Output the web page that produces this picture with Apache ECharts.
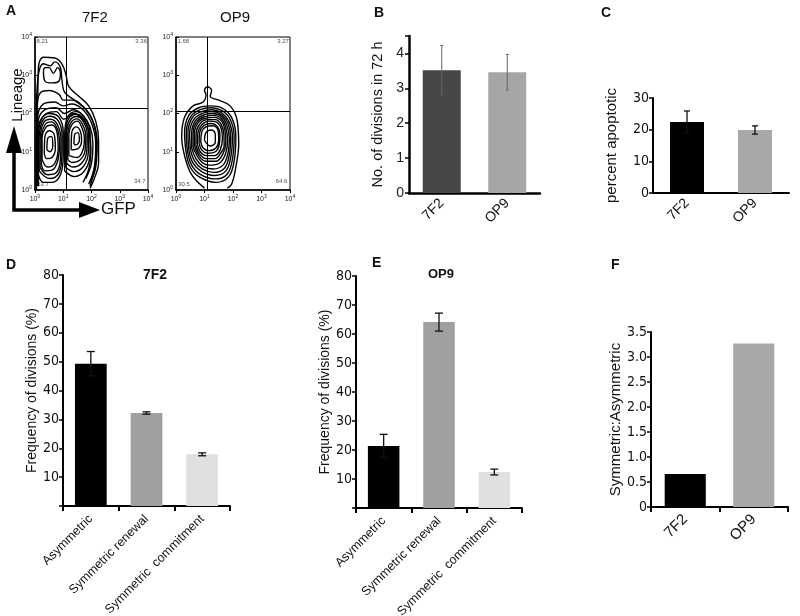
<!DOCTYPE html>
<html><head><meta charset="utf-8">
<script src="https://cdn.jsdelivr.net/npm/echarts@6/dist/echarts.min.js"></script>
<style>html,body{margin:0;padding:0;background:#fff}#c{width:800px;height:616px}</style>
</head><body><div id="c"></div>
<script>
// ---------- Panel A (flow cytometry, log10 exponents) ----------
const flowTicks = [0, 1, 2, 3, 4];
const gate7F2 = {x: 1.12, y: 2.13};
const gateOP9 = {x: 1.09, y: 2.05};
const quad7F2 = [['8.21', 0.05, 3.88], ['3.36', 3.55, 3.88], ['53.7', 0.08, 0.14], ['34.7', 3.5, 0.22]];
const quadOP9 = [['1.68', 0.05, 3.88], ['3.27', 3.55, 3.88], ['30.5', 0.08, 0.14], ['64.6', 3.5, 0.22]];
// contour rings: [log10 GFP, log10 Lineage]
const contours7F2 = [
  [[0.05,0.0],[0.05,1.5],[0.1,2.5],[0.12,3.2],[0.3,3.47],[0.7,3.45],[0.95,3.3],[1.1,3.0],[1.2,2.7],[1.55,2.45],[1.9,2.2],[2.15,1.8],[2.25,1.3],[2.25,0.7],[2.1,0.3],[1.95,0.05]],
  [[0.05,0.1],[0.05,2.0],[0.1,2.9],[0.3,3.3],[0.55,3.25],[0.7,3.35],[0.9,3.2],[0.95,2.9],[1.05,2.55],[1.4,2.35],[1.8,2.1],[2.1,1.7],[2.2,1.2],[2.15,0.6],[1.95,0.2]],
  [[0.3,3.1],[0.35,2.85],[0.6,2.8],[0.85,2.85],[0.9,3.05],[0.8,3.2],[0.65,3.05],[0.5,3.2],[0.35,3.2],[0.3,3.1]],
  [[0.08,0.1],[0.08,2.2],[0.2,2.55],[0.5,2.6],[0.85,2.5],[1.0,2.35],[1.3,2.35],[1.75,2.15],[2.05,1.8],[2.18,1.25],[2.12,0.6],[1.95,0.1]],
  [[0.05,0.2],[0.08,1.8],[0.3,2.25],[0.7,2.3],[1.0,2.2],[1.3,2.25],[1.7,2.1],[2.0,1.75],[2.15,1.2],[2.1,0.6],[1.9,0.15]],
  [[0.1,0.3],[0.1,1.7],[0.35,2.1],[0.75,2.15],[1.05,2.0],[1.35,2.1],[1.7,1.95],[1.95,1.65],[2.05,1.2],[2.0,0.7],[1.8,0.3]],
  [[0.12,0.1],[0.12,1.6],[0.4,2.0],[0.75,2.05],[1.02,1.85],[1.35,2.0],[1.7,1.85],[1.9,1.55],[1.98,1.1],[1.92,0.6],[1.7,0.2]],
  [[0.12,0.4],[0.1,1.2],[0.2,1.8],[0.5,2.0],[0.85,1.9],[1.0,1.5],[1.0,0.9],[0.9,0.4],[0.6,0.2],[0.3,0.2],[0.12,0.4]],
  [[0.15,0.5],[0.14,1.25],[0.25,1.78],[0.52,1.93],[0.83,1.8],[0.96,1.4],[0.95,0.85],[0.83,0.42],[0.52,0.3],[0.15,0.5]],
  [[0.18,0.6],[0.18,1.3],[0.3,1.75],[0.55,1.85],[0.8,1.7],[0.92,1.3],[0.9,0.8],[0.75,0.45],[0.45,0.4],[0.18,0.6]],
  [[0.22,0.7],[0.22,1.32],[0.35,1.7],[0.57,1.78],[0.79,1.6],[0.87,1.2],[0.8,0.75],[0.6,0.52],[0.35,0.5],[0.22,0.7]],
  [[0.25,0.8],[0.25,1.35],[0.4,1.65],[0.6,1.7],[0.78,1.5],[0.82,1.1],[0.7,0.7],[0.45,0.6],[0.25,0.8]],
  [[0.33,0.95],[0.35,1.4],[0.5,1.55],[0.68,1.45],[0.72,1.1],[0.6,0.85],[0.42,0.82],[0.33,0.95]],
  [[0.42,1.05],[0.45,1.35],[0.58,1.4],[0.63,1.15],[0.52,1.0],[0.42,1.05]],
  [[1.05,0.5],[1.05,1.4],[1.15,1.9],[1.45,2.05],[1.75,1.9],[1.95,1.5],[1.95,1.0],[1.8,0.55],[1.4,0.35],[1.05,0.5]],
  [[1.08,0.6],[1.08,1.42],[1.18,1.85],[1.46,1.98],[1.73,1.85],[1.9,1.48],[1.89,1.0],[1.72,0.62],[1.37,0.48],[1.08,0.6]],
  [[1.12,0.7],[1.12,1.45],[1.22,1.8],[1.47,1.92],[1.7,1.8],[1.85,1.45],[1.83,1.0],[1.65,0.7],[1.35,0.6],[1.12,0.7]],
  [[1.16,0.8],[1.16,1.45],[1.26,1.75],[1.48,1.86],[1.68,1.72],[1.8,1.4],[1.77,1.02],[1.58,0.78],[1.3,0.72],[1.16,0.8]],
  [[1.2,0.9],[1.2,1.45],[1.3,1.7],[1.5,1.8],[1.65,1.65],[1.75,1.35],[1.7,1.05],[1.5,0.85],[1.2,0.9]],
  [[1.28,1.05],[1.3,1.5],[1.45,1.65],[1.6,1.55],[1.65,1.3],[1.55,1.1],[1.28,1.05]],
  [[1.38,1.2],[1.4,1.45],[1.52,1.5],[1.57,1.3],[1.45,1.18],[1.38,1.2]]
];
const contoursOP9 = [
  [[1.0,0.05],[0.55,0.4],[0.3,0.9],[0.2,1.4],[0.3,1.9],[0.6,2.2],[0.95,2.3],[1.05,2.5],[1.0,2.6],[1.1,2.7],[1.25,2.6],[1.2,2.45],[1.5,2.35],[1.9,2.2],[2.15,1.8],[2.2,1.2],[2.1,0.6],[1.95,0.15],[1.8,0.05]],
  [[0.35,1.0],[0.3,1.5],[0.45,1.95],[0.8,2.15],[1.2,2.2],[1.6,2.15],[1.95,1.9],[2.1,1.4],[2.05,0.8],[1.85,0.35],[1.4,0.2],[0.8,0.35],[0.5,0.6],[0.35,1.0]],
  [[0.4,1.02],[0.36,1.5],[0.52,1.92],[0.85,2.1],[1.22,2.15],[1.6,2.08],[1.9,1.85],[2.04,1.4],[1.99,0.85],[1.8,0.42],[1.37,0.29],[0.85,0.41],[0.55,0.65],[0.4,1.02]],
  [[0.45,1.05],[0.42,1.5],[0.58,1.9],[0.9,2.05],[1.25,2.1],[1.6,2.02],[1.85,1.8],[1.98,1.4],[1.93,0.9],[1.75,0.5],[1.35,0.38],[0.9,0.48],[0.6,0.7],[0.45,1.05]],
  [[0.5,1.08],[0.48,1.5],[0.64,1.86],[0.95,2.01],[1.28,2.05],[1.6,1.97],[1.82,1.75],[1.92,1.38],[1.87,0.92],[1.7,0.57],[1.32,0.46],[0.92,0.55],[0.65,0.76],[0.5,1.08]],
  [[0.55,1.1],[0.55,1.5],[0.7,1.83],[1.0,1.97],[1.3,2.0],[1.6,1.92],[1.78,1.7],[1.87,1.35],[1.82,0.95],[1.65,0.65],[1.3,0.55],[0.95,0.62],[0.7,0.82],[0.55,1.1]],
  [[0.6,1.12],[0.6,1.5],[0.75,1.8],[1.02,1.92],[1.32,1.95],[1.6,1.86],[1.75,1.62],[1.81,1.3],[1.74,0.95],[1.52,0.7],[1.17,0.65],[0.87,0.76],[0.6,1.12]],
  [[0.65,1.15],[0.65,1.5],[0.8,1.78],[1.05,1.88],[1.35,1.9],[1.6,1.8],[1.72,1.55],[1.75,1.25],[1.65,0.95],[1.4,0.75],[1.05,0.75],[0.8,0.9],[0.65,1.15]],
  [[0.7,1.17],[0.71,1.5],[0.85,1.74],[1.1,1.84],[1.38,1.84],[1.59,1.71],[1.68,1.45],[1.69,1.15],[1.6,1.0],[1.37,0.82],[1.05,0.82],[0.82,0.95],[0.7,1.17]],
  [[0.75,1.2],[0.77,1.5],[0.9,1.7],[1.15,1.8],[1.4,1.78],[1.58,1.62],[1.63,1.35],[1.55,1.05],[1.35,0.9],[1.05,0.9],[0.85,1.0],[0.75,1.2]],
  [[0.81,1.22],[0.83,1.5],[0.97,1.68],[1.22,1.74],[1.44,1.67],[1.54,1.45],[1.52,1.2],[1.38,1.0],[1.1,0.96],[0.9,1.05],[0.81,1.22]],
  [[0.87,1.25],[0.9,1.5],[1.05,1.65],[1.3,1.68],[1.48,1.55],[1.5,1.3],[1.4,1.1],[1.15,1.03],[0.95,1.1],[0.87,1.25]],
  [[1.0,1.3],[1.05,1.5],[1.25,1.57],[1.38,1.45],[1.38,1.25],[1.2,1.15],[1.0,1.3]]
];

// ---------- Panel B ----------
const bCats = ['7F2', 'OP9'];
const bVals = [3.52, 3.46];
const bErr = [0.71, 0.51];
// ---------- Panel C ----------
const cCats = ['7F2', 'OP9'];
const cVals = [22.4, 19.9];
const cErr = [3.5, 1.3];
// ---------- Panel D / E ----------
const divCats = ['Asymmetric', 'Symmetric renewal', 'Symmetric  commitment'];
const dVals = [49.3, 32.2, 17.9];
const dErr = [4.2, 0.4, 0.5];
const eVals = [21.4, 64.1, 12.4];
const eErr = [4.0, 3.1, 1.0];
// ---------- Panel F ----------
const fCats = ['7F2', 'OP9'];
const fVals = [0.66, 3.27];

const NARROW = "'Liberation Sans Narrow','Arial Narrow','DejaVu Sans Condensed',sans-serif";
const SANS = "'Liberation Sans',Arial,Helvetica,sans-serif";

const chart = echarts.init(document.getElementById('c'), null, {renderer: 'canvas'});

const gbase = {outerBoundsMode: 'none', containLabel: false};
const grids = [
  {left: 35, top: 37, width: 113, height: 153, show: true, borderColor: '#000', borderWidth: 1},
  {left: 176, top: 37, width: 114, height: 153, show: true, borderColor: '#000', borderWidth: 1},
  {left: 409, top: 36, width: 131, height: 157},
  {left: 653, top: 98, width: 136, height: 95},
  {left: 63, top: 275, width: 167, height: 231},
  {left: 356, top: 276, width: 166, height: 232},
  {left: 651, top: 332, width: 137, height: 175}
].map(g => Object.assign({}, gbase, g));

function flowAxis(gi, isX) {
  return {
    type: 'value', gridIndex: gi, min: 0, max: 4, interval: 1,
    axisLine: {show: true, lineStyle: {color: '#000', width: 1.5}},
    axisTick: {show: true, inside: !isX, length: 3, lineStyle: {color: '#000'}},
    splitLine: {show: false},
    axisLabel: {
      fontSize: 7, color: '#222', fontFamily: SANS, margin: isX ? 4 : 3,
      formatter: v => '10{e|' + v + '}',
      rich: {e: {fontSize: 5, verticalAlign: 'top', padding: [0, 0, 5, 0], fontFamily: SANS, color: '#222'}}
    }
  };
}
function catAxis(gi, cats, opts) {
  return Object.assign({
    type: 'category', gridIndex: gi, data: cats,
    axisLine: {show: true, lineStyle: {color: '#000', width: 2.5}},
    axisTick: {show: false},
    axisLabel: {rotate: 45, fontSize: 14, color: '#111', fontFamily: SANS, margin: 8}
  }, opts || {});
}
function valAxis(gi, min, max, interval, name, nameGap, opts) {
  return Object.assign({
    type: 'value', gridIndex: gi, min: min, max: max, interval: interval,
    name: name, nameLocation: 'middle', nameGap: nameGap, nameRotate: 90,
    nameTextStyle: {fontSize: 15, color: '#111', fontFamily: SANS},
    axisLine: {show: true, lineStyle: {color: '#000', width: 2.5}},
    axisTick: {show: true, length: 4, lineStyle: {color: '#000', width: 1.5}},
    splitLine: {show: false},
    axisLabel: {fontSize: 14, color: '#111', fontFamily: NARROW, margin: 4}
  }, opts || {});
}
const divLabel = {rotate: 45, fontSize: 12.5, color: '#111', fontFamily: SANS, margin: 11, interval: 0};

const xAxes = [
  flowAxis(0, true), flowAxis(1, true),
  catAxis(2, bCats),
  catAxis(3, cCats, {axisLine: {show: true, lineStyle: {color: '#000', width: 2}}}),
  catAxis(4, divCats, {axisLine: {show: true, lineStyle: {color: '#000', width: 2}},
    axisTick: {show: true, length: 5, lineStyle: {color: '#000', width: 2}}, axisLabel: divLabel}),
  catAxis(5, divCats, {axisLine: {show: true, lineStyle: {color: '#000', width: 2}},
    axisTick: {show: true, length: 5, lineStyle: {color: '#000', width: 2}}, axisLabel: divLabel}),
  catAxis(6, fCats, {axisLine: {show: true, lineStyle: {color: '#000', width: 2}},
    axisTick: {show: true, length: 5, lineStyle: {color: '#000', width: 2}},
    axisLabel: {rotate: 45, fontSize: 15, color: '#111', fontFamily: SANS, margin: 10}})
];
const yAxes = [
  flowAxis(0, false), flowAxis(1, false),
  valAxis(2, 0, 4.5, 1, 'No. of divisions in 72 h', 24, {
    axisLabel: {fontSize: 14, color: '#222', fontFamily: SANS, margin: 5, formatter: v => Number.isInteger(v) ? String(v) : ''},
    nameTextStyle: {fontSize: 14.5, color: '#111', fontFamily: SANS}}),
  valAxis(3, 0, 30, 10, 'percent apoptotic', 34, {axisLine: {show: true, lineStyle: {color: '#000', width: 2}}}),
  valAxis(4, 0, 80, 10, 'Frequency of divisions (%)', 22, {
    axisLine: {show: true, lineStyle: {color: '#000', width: 2}},
    axisLabel: {fontSize: 14, color: '#111', fontFamily: NARROW, margin: 4, formatter: v => v === 0 ? '' : String(v)},
    nameTextStyle: {fontSize: 14, color: '#111', fontFamily: SANS}}),
  valAxis(5, 0, 80, 10, 'Frequency of divisions (%)', 18, {
    axisLine: {show: true, lineStyle: {color: '#000', width: 2}},
    axisLabel: {fontSize: 14, color: '#111', fontFamily: NARROW, margin: 4, formatter: v => v === 0 ? '' : String(v)},
    nameTextStyle: {fontSize: 14, color: '#111', fontFamily: SANS}}),
  valAxis(6, 0, 3.5, 0.5, 'Symmetric:Asymmetric', 23, {
    axisLine: {show: true, lineStyle: {color: '#000', width: 2}},
    axisLabel: {fontSize: 14, color: '#111', fontFamily: NARROW, margin: 4, formatter: v => v === 0 ? '0' : v.toFixed(1)}})
];

const series = [];
function addContours(rings, gi) {
  rings.forEach(r => series.push({
    type: 'line', xAxisIndex: gi, yAxisIndex: gi, data: r, smooth: 0.4, showSymbol: false,
    symbol: 'none', lineStyle: {color: '#000', width: 1.4}, silent: true, animation: false, clip: true
  }));
}
addContours(contours7F2, 0);
addContours(contoursOP9, 1);
function addGate(gi, gate, quads) {
  series.push({
    type: 'scatter', xAxisIndex: gi, yAxisIndex: gi, symbolSize: 0, animation: false,
    data: quads.map(q => ({value: [q[1], q[2]], label: {formatter: q[0]}})),
    label: {show: true, position: 'right', distance: 0, fontSize: 6, color: '#222', fontFamily: SANS},
    markLine: {
      silent: true, symbol: 'none', animation: false, label: {show: false},
      lineStyle: {color: '#000', type: 'solid', width: 1},
      data: [{xAxis: gate.x}, {yAxis: gate.y}]
    }
  });
}
addGate(0, gate7F2, quad7F2);
addGate(1, gateOP9, quadOP9);

function addBars(gi, vals, colors, barWidth) {
  series.push({
    type: 'bar', xAxisIndex: gi, yAxisIndex: gi, barWidth: barWidth, animation: false,
    data: vals.map((v, i) => ({value: v, itemStyle: {color: colors[i]}}))
  });
}
function addErr(gi, vals, errs, color, capW, lw) {
  series.push({
    type: 'custom', xAxisIndex: gi, yAxisIndex: gi, z: 5, animation: false,
    data: vals.map((v, i) => [i, v, errs[i]]),
    renderItem: (params, api) => {
      const i = api.value(0), v = api.value(1), e = api.value(2);
      const t = api.coord([i, v + e]), b = api.coord([i, v - e]);
      const st = {stroke: color, lineWidth: lw};
      return {type: 'group', children: [
        {type: 'line', shape: {x1: t[0], y1: t[1], x2: b[0], y2: b[1]}, style: st},
        {type: 'line', shape: {x1: t[0] - capW, y1: t[1], x2: t[0] + capW, y2: t[1]}, style: st},
        {type: 'line', shape: {x1: b[0] - capW, y1: b[1], x2: b[0] + capW, y2: b[1]}, style: st}
      ]};
    }
  });
}
addBars(2, bVals, ['#474747', '#a6a6a6'], '58%');
addErr(2, bVals, bErr, '#666', 1.5, 1);
addBars(3, cVals, ['#000', '#a8a8a8'], '50%');
addErr(3, cVals, cErr, '#111', 3, 1.3);
addBars(4, dVals, ['#000', '#a0a0a0', '#e0e0e0'], '57%');
addErr(4, dVals, dErr, '#111', 4, 1.3);
addBars(5, eVals, ['#000', '#a0a0a0', '#e0e0e0'], '57%');
addErr(5, eVals, eErr, '#111', 4, 1.3);
addBars(6, fVals, ['#000', '#a8a8a8'], '60%');

const txt = (x, y, s, size, weight, extra) => Object.assign({
  type: 'text', left: x, top: y,
  style: {text: s, fontSize: size, fontWeight: weight || 'normal', fontFamily: SANS, fill: '#111'}
}, extra || {});

const graphic = [
  txt(6, 4, 'A', 14, 'bold'),
  txt(82, 10, '7F2', 15),
  txt(220, 10, 'OP9', 15),
  txt(374, 6, 'B', 14, 'bold'),
  txt(601, 6, 'C', 14, 'bold'),
  txt(6, 258, 'D', 14, 'bold'),
  txt(372, 256, 'E', 14, 'bold'),
  txt(611, 258, 'F', 14, 'bold'),
  txt(143, 268, '7F2', 14, 'bold'),
  txt(428, 268, 'OP9', 13, 'bold'),
  // Lineage / GFP arrow axes
  {type: 'polyline', shape: {points: [[14, 150], [14, 210], [82, 210]]}, style: {stroke: '#000', lineWidth: 3.5, fill: null}},
  {type: 'polygon', shape: {points: [[14, 126], [6, 153], [22, 153]]}, style: {fill: '#000'}},
  {type: 'polygon', shape: {points: [[100, 210], [79, 202], [79, 218]]}, style: {fill: '#000'}},
  txt(101, 201, 'GFP', 17),
  {type: 'text', x: 18, y: 95, rotation: Math.PI / 2,
   style: {text: 'Lineage', fontSize: 15, fontFamily: SANS, fill: '#111', align: 'center', verticalAlign: 'middle'}}
];

chart.setOption({
  animation: false,
  backgroundColor: '#fff',
  grid: grids, xAxis: xAxes, yAxis: yAxes, series: series, graphic: graphic
});
</script></body></html>
